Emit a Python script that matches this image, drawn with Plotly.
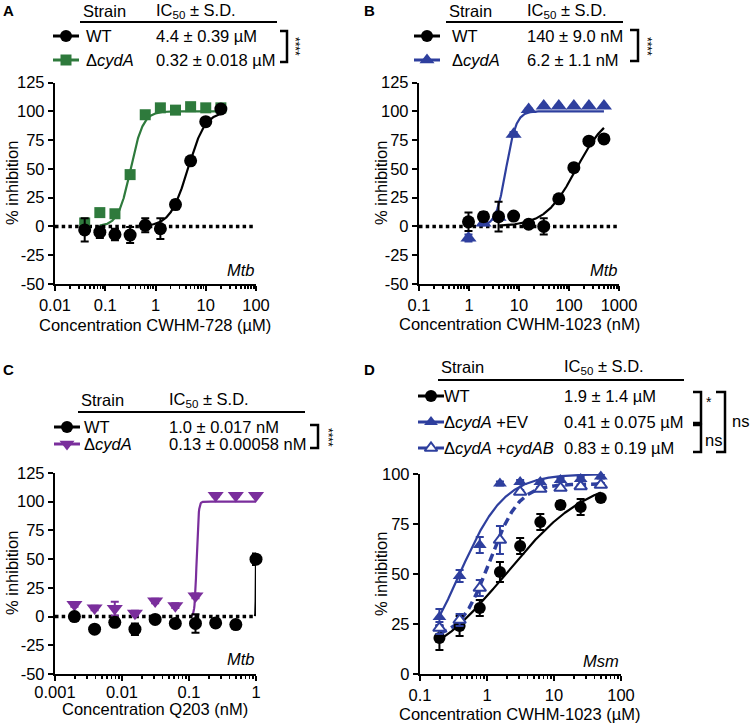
import numpy as np
import plotly.graph_objects as go

W, H = 750, 724
FONT = "Liberation Sans, Arial, Helvetica, sans-serif"
BLACK = "#000000"
GREEN = "#2E7A3C"
BLUE = "#2E3F9E"
PURPLE = "#7A2E9C"

# ---------------- data ----------------
# Panel A (CWHM-728, uM, Mtb)
a_conc = [0.039, 0.078, 0.156, 0.3125, 0.625, 1.25, 2.5, 5, 10, 20]
a_wt = [-3, -5, -7, -7.5, 1, -2, 19, 57, 91, 102]
a_wt_sd = [10, 5, 5, 7, 6, 9, 4, 2, 2, 2]
a_cyd = [3, 12, 11, 45, 97, 103, 101, 104, 103, 103]
a_cyd_sd = [2, 2, 2, 3, 2, 2, 2, 2, 2, 2]
a_fit_wt = dict(ic50=4.4, hill=2.5, bottom=0, top=100)
a_fit_cyd = dict(ic50=0.32, hill=3.5, bottom=0, top=100)

# Panel B (CWHM-1023, nM, Mtb)
b_conc = [0.977, 1.95, 3.9, 7.8, 15.6, 31.25, 62.5, 125, 250, 500]
b_wt = [4, 8.5, 8.5, 9, 2, 0, 24, 51, 74, 76]
b_wt_sd = [8, 4, 13, 2, 2, 7, 2, 2, 2, 2]
b_cyd = [-10, 3, 8, 80, 101.5, 104.5, 104.5, 104.5, 104.5, 104.5]
b_cyd_sd = [3, 2, 2, 2, 1, 1, 1, 1, 1, 1]
b_fit_wt = dict(ic50=140, hill=1.4, bottom=0, top=100)
b_fit_cyd = dict(ic50=5.5, hill=4.3, bottom=0, top=100)

# Panel C (Q203, nM, Mtb)
c_conc = [0.00195, 0.0039, 0.0078, 0.0156, 0.03125, 0.0625, 0.125, 0.25, 0.5, 1.0]
c_wt = [0, -11, -5, -11, -2.5, -6, -6, -5.5, -7, 50]
c_wt_sd = [2, 2, 2, 5, 2, 2, 8, 2, 2, 5]
c_cyd = [10.5, 7.5, 7, 3, 13.5, 9.5, 18, 105.5, 105.5, 105.5]
c_cyd_sd = [2, 2, 6, 2, 2, 2, 2, 1, 1, 1]
c_fit_wt = dict(ic50=1.0, hill=150, bottom=0, top=100)
c_fit_cyd = dict(ic50=0.13, hill=30, bottom=0, top=100)

# Panel D (CWHM-1023, uM, Msm)
d_conc = [0.195, 0.39, 0.78, 1.56, 3.125, 6.25, 12.5, 25, 50]
d_wt = [18, 24, 33, 51, 64, 76, 84.5, 83.5, 88]
d_wt_sd = [6, 5, 4, 5, 4, 4, 2, 4, 1]
d_ev = [28.5, 49, 64.5, 95.3, 96, 96, 97, 97.5, 98.7]
d_ev_sd = [4, 3, 4, 1, 1, 1, 1, 1, 1]
d_ab = [23, 27, 43, 67, 91, 92.5, 93, 93.8, 94.5]
d_ab_sd = [3, 3, 4, 7, 1, 1, 1, 1, 1]
d_fit_wt = dict(ic50=1.9, hill=0.7, bottom=0, top=100)
d_fit_ev = dict(ic50=0.39, hill=1.3, bottom=0, top=100)
d_fit_ab = dict(ic50=1.1, hill=2.0, bottom=18, top=95)

# tick labels
a_xticks = ["0.01", "0.1", "1", "10", "100"]
b_xticks = ["0.1", "1", "10", "100", "1000"]
c_xticks = ["0.001", "0.01", "0.1", "1"]
d_xticks = ["0.1", "1", "10", "100"]
abc_yticks = ["-50", "-25", "0", "25", "50", "75", "100", "125"]
d_yticks = ["0", "25", "50", "75", "100"]

# legend tables
a_rows = [("WT", "4.4 ± 0.39 µM"), ("Δ<i>cydA</i>", "0.32 ± 0.018 µM")]
b_rows = [("WT", "140 ± 9.0 nM"), ("Δ<i>cydA</i>", "6.2 ± 1.1 nM")]
c_rows = [("WT", "1.0 ± 0.017 nM"), ("Δ<i>cydA</i>", "0.13 ± 0.00058 nM")]
d_rows = [("WT", "1.9 ± 1.4 µM"), ("Δ<i>cydA</i> +EV", "0.41 ± 0.075 µM"),
          ("Δ<i>cydA</i> +<i>cydAB</i>", "0.83 ± 0.19 µM")]


def fourpl(x, p):
    return p["bottom"] + (p["top"] - p["bottom"]) / (1 + (p["ic50"] / x) ** p["hill"])


def fit_curve(xs, p, trim=True):
    x = np.logspace(np.log10(min(xs)), np.log10(max(xs)), 500)
    y = fourpl(x, p)
    if trim:
        idx = int(np.argmax(y > 0.7))
        x, y = x[max(idx - 1, 0):], y[max(idx - 1, 0):]
    return x, y


fig = go.Figure()


def add_curve(xs, p, color, ax, dash="solid", trim=True, width=2.2):
    x, y = fit_curve(xs, p, trim)
    fig.add_trace(go.Scatter(x=x, y=y, mode="lines", xaxis=ax[0], yaxis=ax[1],
                             line=dict(color=color, width=width, dash=dash),
                             hoverinfo="skip"))


def add_points(xs, ys, sd, color, symbol, size, ax, fill=None):
    fig.add_trace(go.Scatter(
        x=xs, y=ys, mode="markers", xaxis=ax[0], yaxis=ax[1], cliponaxis=False,
        marker=dict(symbol=symbol, size=size, color=fill or color,
                    line=dict(color=color, width=2 if fill else 0)),
        error_y=dict(type="data", array=sd, visible=True, color=color,
                     thickness=2, width=4)))


def add_zero_line(rng, ax):
    fig.add_trace(go.Scatter(x=[10 ** rng[0], 10 ** rng[1]], y=[0, 0], mode="lines",
                             xaxis=ax[0], yaxis=ax[1], hoverinfo="skip",
                             line=dict(color=BLACK, width=3.5, dash="3.5px,3.2px")))


A_ax, B_ax, C_ax, D_ax = ("x", "y"), ("x2", "y2"), ("x3", "y3"), ("x4", "y4")
a_rng, b_rng, c_rng, d_rng = [-2, 2], [-1, 3], [-3, 0], [-1, 2]

# Panel A
add_curve(a_conc, a_fit_cyd, GREEN, A_ax)
add_curve(a_conc, a_fit_wt, BLACK, A_ax)
add_zero_line(a_rng, A_ax)
add_points(a_conc, a_cyd, a_cyd_sd, GREEN, "square", 11, A_ax)
add_points(a_conc, a_wt, a_wt_sd, BLACK, "circle", 13, A_ax)

# Panel B
add_curve(b_conc, b_fit_cyd, BLUE, B_ax)
add_curve(b_conc, b_fit_wt, BLACK, B_ax)
add_zero_line(b_rng, B_ax)
add_points(b_conc, b_cyd, b_cyd_sd, BLUE, "triangle-up", 14, B_ax)
add_points(b_conc, b_wt, b_wt_sd, BLACK, "circle", 13, B_ax)

# Panel C
add_curve(c_conc, c_fit_cyd, PURPLE, C_ax)
add_curve(c_conc, c_fit_wt, BLACK, C_ax)
add_zero_line(c_rng, C_ax)
add_points(c_conc, c_cyd, c_cyd_sd, PURPLE, "triangle-down", 14, C_ax)
add_points(c_conc, c_wt, c_wt_sd, BLACK, "circle", 13, C_ax)

# Panel D
add_curve(d_conc, d_fit_wt, BLACK, D_ax, trim=False)
add_curve(d_conc, d_fit_ev, BLUE, D_ax, trim=False)
add_curve(d_conc, d_fit_ab, BLUE, D_ax, dash="8px,5px", trim=False, width=3.5)
add_points(d_conc, d_wt, d_wt_sd, BLACK, "circle", 12, D_ax)
add_points(d_conc, d_ev, d_ev_sd, BLUE, "triangle-up", 12, D_ax)
add_points(d_conc, d_ab, d_ab_sd, BLUE, "triangle-up", 11, D_ax, fill="white")

# ---------------- layout helpers (pixel -> paper) ----------------
annotations, shapes = [], []


def px(x):
    return x / W


def py(y):
    return 1 - y / H


def txt(x, y, s, size=16.5, xanchor="left", angle=0, yanchor="middle"):
    annotations.append(dict(x=px(x), y=py(y), xref="paper", yref="paper", text=s,
                            showarrow=False, xanchor=xanchor, yanchor=yanchor,
                            textangle=angle, borderpad=0,
                            font=dict(family=FONT, size=size, color=BLACK)))


def hline(x0, x1, y, w=2.2):
    shapes.append(dict(type="line", xref="paper", yref="paper", x0=px(x0), x1=px(x1),
                       y0=py(y), y1=py(y), line=dict(color=BLACK, width=w)))


def bracket(x0, x1, y0, y1, w=2.5):
    path = f"M {px(x0)} {py(y0)} L {px(x1)} {py(y0)} L {px(x1)} {py(y1)} L {px(x0)} {py(y1)}"
    shapes.append(dict(type="path", xref="paper", yref="paper", path=path,
                       line=dict(color=BLACK, width=w)))


def glyph(xc, y, color, symbol, size, dash="solid", fill=None):
    fig.add_trace(go.Scatter(x=[xc - 13, xc + 13], y=[y, y], mode="lines", xaxis="x5", yaxis="y5",
                             line=dict(color=color, width=3, dash=dash), hoverinfo="skip"))
    fig.add_trace(go.Scatter(x=[xc], y=[y], mode="markers", xaxis="x5", yaxis="y5",
                             cliponaxis=False, hoverinfo="skip",
                             marker=dict(symbol=symbol, size=size, color=fill or color,
                                         line=dict(color=color, width=2 if fill else 0))))


def table(x_strain, x_val, y_head, line_x1, y_line, rows_y, rows, glyphs, xg):
    txt(x_strain, y_head, "Strain")
    txt(x_val, y_head, "IC<sub>50</sub> ± S.D.")
    hline(x_strain - 2, line_x1, y_line)
    for (name, val), yy, g in zip(rows, rows_y, glyphs):
        txt(x_strain + 3, yy, name)
        txt(x_val, yy, val)
        glyph(xg, yy, *g)


# Panel letters
txt(8, 11, "<b>A</b>", size=15, xanchor="center")
txt(369, 11, "<b>B</b>", size=15, xanchor="center")
txt(8, 369, "<b>C</b>", size=15, xanchor="center")
txt(369, 369, "<b>D</b>", size=15, xanchor="center")

# Tables
table(82, 155, 11, 277, 22, [36, 60], a_rows,
      [(BLACK, "circle", 12), (GREEN, "square", 11)], 66)
bracket(280, 287, 31, 62)
txt(295, 46, "****", size=12, xanchor="center", angle=90)

table(448, 526, 11, 623, 22, [36, 60], b_rows,
      [(BLACK, "circle", 12), (BLUE, "triangle-up", 13)], 427)
bracket(630, 638, 30, 61)
txt(647, 46, "****", size=12, xanchor="center", angle=90)

table(80, 168, 400, 305, 412, [427, 444], c_rows,
      [(BLACK, "circle", 12), (PURPLE, "triangle-down", 13)], 67)
bracket(310, 318, 425, 448)
txt(328, 437, "****", size=12, xanchor="center", angle=90)

table(440, 563, 367, 684, 380, [396, 422, 448], d_rows,
      [(BLACK, "circle", 12), (BLUE, "triangle-up", 12),
       (BLUE, "triangle-up", 11, "dash", "white")], 431)
bracket(693, 701, 392, 423)
bracket(693, 701, 425, 452)
bracket(716, 725, 392, 452)
txt(705, 402, "*", size=14)
txt(713, 440, "ns", xanchor="center")
txt(740, 421, "ns", xanchor="center")

# species labels
txt(256, 270, "<i>Mtb</i>", xanchor="right")
txt(619, 270, "<i>Mtb</i>", xanchor="right")
txt(256, 659, "<i>Mtb</i>", xanchor="right")
txt(620, 661, "<i>Msm</i>", xanchor="right")

# axis titles
txt(12, 183, "% inhibition", angle=-90, xanchor="center")
txt(381, 183, "% inhibition", angle=-90, xanchor="center")
txt(12, 573, "% inhibition", angle=-90, xanchor="center")
txt(381, 574, "% inhibition", angle=-90, xanchor="center")
txt(155, 325, "Concentration CWHM-728 (µM)", xanchor="center")
txt(519, 324, "Concentration CWHM-1023 (nM)", xanchor="center")
txt(155, 709, "Concentration Q203 (nM)", xanchor="center")
txt(520, 714, "Concentration CWHM-1023 (µM)", xanchor="center")

# ---------------- axes ----------------
tickfont = dict(family=FONT, size=16.5, color=BLACK)


def xcfg(x0, x1, rng, labels, anchor, standoff=0):
    return dict(type="log", domain=[px(x0), px(x1)], range=rng, anchor=anchor,
                showline=True, linecolor=BLACK, linewidth=2.2, ticks="outside",
                ticklen=5, tickwidth=2, tickcolor=BLACK, tickmode="array",
                tickvals=[10.0 ** (rng[0] + i) for i in range(len(labels))],
                ticktext=labels, tickfont=tickfont, showgrid=False, zeroline=False,
                ticklabelstandoff=standoff,
                minor=dict(ticks="outside", ticklen=3, tickwidth=1.6, tickcolor=BLACK,
                           dtick="D1", showgrid=False))


def ycfg(ytop, ybot, rng, labels, anchor):
    vals = [float(v) for v in labels]
    return dict(domain=[py(ybot), py(ytop)], range=rng, anchor=anchor,
                showline=True, linecolor=BLACK, linewidth=2.2, ticks="outside",
                ticklen=5, tickwidth=2, tickcolor=BLACK, tickmode="array",
                tickvals=vals, ticktext=labels, tickfont=tickfont,
                showgrid=False, zeroline=False)


fig.update_layout(
    width=W, height=H, margin=dict(l=0, r=0, t=0, b=0, pad=0, autoexpand=False),
    paper_bgcolor="white", plot_bgcolor="rgba(0,0,0,0)", showlegend=False,
    font=dict(family=FONT, size=16, color=BLACK),
    xaxis=xcfg(55, 256, a_rng, a_xticks, "y"),
    yaxis=ycfg(82.5, 284, [-50, 125], abc_yticks, "x"),
    xaxis2=xcfg(419, 619, b_rng, b_xticks, "y2"),
    yaxis2=ycfg(82.5, 284, [-50, 125], abc_yticks, "x2"),
    xaxis3=xcfg(55, 256, c_rng, c_xticks, "y3", standoff=-3),
    yaxis3=ycfg(473, 674, [-50, 125], abc_yticks, "x3"),
    xaxis4=xcfg(420, 621, d_rng, d_xticks, "y4"),
    yaxis4=ycfg(474, 674, [0, 100], d_yticks, "x4"),
    xaxis5=dict(domain=[0, 1], range=[0, W], anchor="y5", visible=False, fixedrange=True),
    yaxis5=dict(domain=[0, 1], range=[H, 0], anchor="x5", visible=False, fixedrange=True),
    annotations=annotations, shapes=shapes,
)

fig.write_html("out.html",
               config={"displayModeBar": False, "staticPlot": True},
               post_script="document.body.style.margin='0';document.body.style.padding='0';")
